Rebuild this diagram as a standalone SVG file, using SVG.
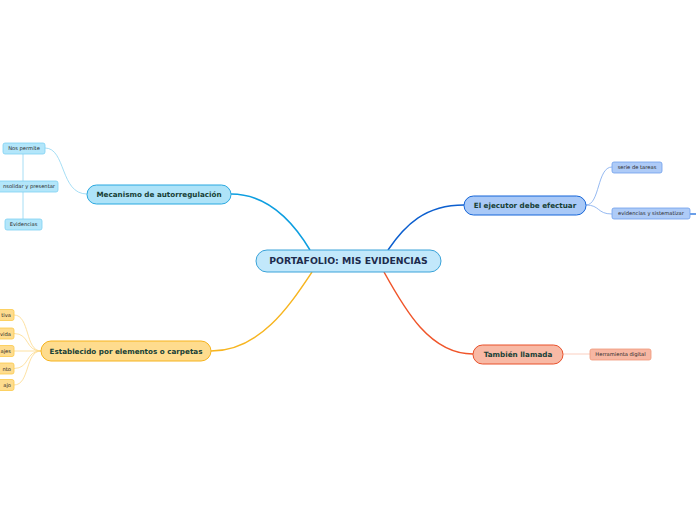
<svg xmlns="http://www.w3.org/2000/svg" width="696" height="520" viewBox="0 0 696 520">
<style>
text{font-family:"DejaVu Sans","Liberation Sans",sans-serif;}
.main{font-size:9.3px;font-weight:bold;fill:#1d2b4d;text-anchor:middle;}
.l1{font-size:7.2px;font-weight:bold;fill:#173f36;text-anchor:middle;}
.l2{font-size:5.2px;fill:#2a2a2a;text-anchor:middle;}
.l2e{font-size:5.2px;fill:#2a2a2a;text-anchor:end;}
.c{fill:none;}
</style>
<rect width="696" height="520" fill="#ffffff"/>
<g id="connectors">
  <path class="c" d="M310,250 C295,225 270,194 231,194" stroke="#0d9ee0" stroke-width="1.5"/>
  <path class="c" d="M388,250 C405,225 425,205 464,205" stroke="#0c5fcf" stroke-width="1.5"/>
  <path class="c" d="M384,272 C405,310 430,354 473,354" stroke="#f0552a" stroke-width="1.5"/>
  <path class="c" d="M312,272 C290,305 260,351 211,351" stroke="#f7b520" stroke-width="1.5"/>
  <path class="c" d="M87,194 C60,194 66,148 45,148" stroke="#8fd6f3" stroke-width="0.8"/>
  <path class="c" d="M23,154 L23,181 M23,192 L23,219" stroke="#8fd6f3" stroke-width="0.8"/>
  <path class="c" d="M586,205 C600,205 597,167 612,167" stroke="#7aa7ee" stroke-width="0.8"/>
  <path class="c" d="M586,205 C600,205 597,214 612,214" stroke="#7aa7ee" stroke-width="0.8"/>
  <path class="c" d="M690,214 L696,214" stroke="#3a7fe0" stroke-width="1.5"/>
  <path class="c" d="M563,354 L590,354" stroke="#fbcfc0" stroke-width="1"/>
  <g stroke="#fcd98a" stroke-width="0.8" fill="none">
    <path d="M41,351 C25,351 30,315 14,315"/>
    <path d="M41,351 C25,351 30,333.5 14,333.5"/>
    <path d="M41,351 L14,351"/>
    <path d="M41,351 C25,351 30,368.5 14,368.5"/>
    <path d="M41,351 C25,351 30,385 14,385"/>
  </g>
</g>
<g id="root">
  <rect x="256" y="250" width="185" height="22" rx="11" fill="#c2e8fb" stroke="#3aa3d9" stroke-width="1"/>
  <text class="main" x="348.5" y="264.4">PORTAFOLIO: MIS EVIDENCIAS</text>
</g>
<g id="mecanismo">
  <rect x="87" y="185" width="144" height="19" rx="9.5" fill="#aee3f8" stroke="#29a8e0" stroke-width="1"/>
  <text class="l1" x="159" y="197">Mecanismo de autorregulación</text>
</g>
<g id="ejecutor">
  <rect x="464" y="196" width="122" height="19" rx="9.5" fill="#a9c9f7" stroke="#1565d8" stroke-width="1"/>
  <text class="l1" x="525" y="208">El ejecutor debe efectuar</text>
</g>
<g id="tambien">
  <rect x="473" y="345" width="90" height="19" rx="9.5" fill="#f8b9a5" stroke="#e8502a" stroke-width="1"/>
  <text class="l1" x="518" y="357">También llamada</text>
</g>
<g id="establecido">
  <rect x="41" y="341" width="170" height="20" rx="10" fill="#fedc8e" stroke="#f6b31c" stroke-width="1"/>
  <text class="l1" x="126" y="353.5">Establecido por elementos o carpetas</text>
</g>
<g id="nos-permite">
  <rect x="3" y="143" width="42" height="11" rx="2" fill="#b3e6fa" stroke="#7fd0f2" stroke-width="0.8"/>
  <text class="l2" x="24" y="150.4">Nos permite</text>
</g>
<g id="consolidar">
  <rect x="-8" y="181" width="66" height="11" rx="2" fill="#b3e6fa" stroke="#7fd0f2" stroke-width="0.8"/>
  <text class="l2e" x="55" y="188.4">nsolidar y presentar</text>
</g>
<g id="evidencias">
  <rect x="5" y="219" width="37" height="11" rx="2" fill="#b3e6fa" stroke="#7fd0f2" stroke-width="0.8"/>
  <text class="l2" x="23.5" y="226.4">Evidencias</text>
</g>
<g id="serie">
  <rect x="612" y="162" width="50" height="11" rx="2" fill="#aecbf7" stroke="#6fa0ec" stroke-width="0.8"/>
  <text class="l2" x="637" y="169.4">serie de tareas</text>
</g>
<g id="evid-sist">
  <rect x="612" y="208" width="78" height="11" rx="2" fill="#aecbf7" stroke="#6fa0ec" stroke-width="0.8"/>
  <text class="l2" x="651" y="215.4">evidencias y sistematizar</text>
</g>
<g id="herramienta">
  <rect x="590" y="349" width="61" height="11" rx="2" fill="#f7b7a3" stroke="#f09878" stroke-width="0.8"/>
  <text class="l2" x="620.5" y="356.4">Herramienta digital</text>
</g>
<g id="y1"><rect x="-6" y="309.5" width="20" height="11" rx="2" fill="#fedc8e" stroke="#fbc94a" stroke-width="0.8"/><text class="l2e" x="11" y="317">tiva</text></g>
<g id="y2"><rect x="-6" y="328" width="20" height="11" rx="2" fill="#fedc8e" stroke="#fbc94a" stroke-width="0.8"/><text class="l2e" x="11" y="335.5">vida</text></g>
<g id="y3"><rect x="-6" y="345.5" width="20" height="11" rx="2" fill="#fedc8e" stroke="#fbc94a" stroke-width="0.8"/><text class="l2e" x="11" y="353">ajes</text></g>
<g id="y4"><rect x="-6" y="363" width="20" height="11" rx="2" fill="#fedc8e" stroke="#fbc94a" stroke-width="0.8"/><text class="l2e" x="11" y="370.5">nto</text></g>
<g id="y5"><rect x="-6" y="379.5" width="20" height="11" rx="2" fill="#fedc8e" stroke="#fbc94a" stroke-width="0.8"/><text class="l2e" x="11" y="387">ajo</text></g>
</svg>
